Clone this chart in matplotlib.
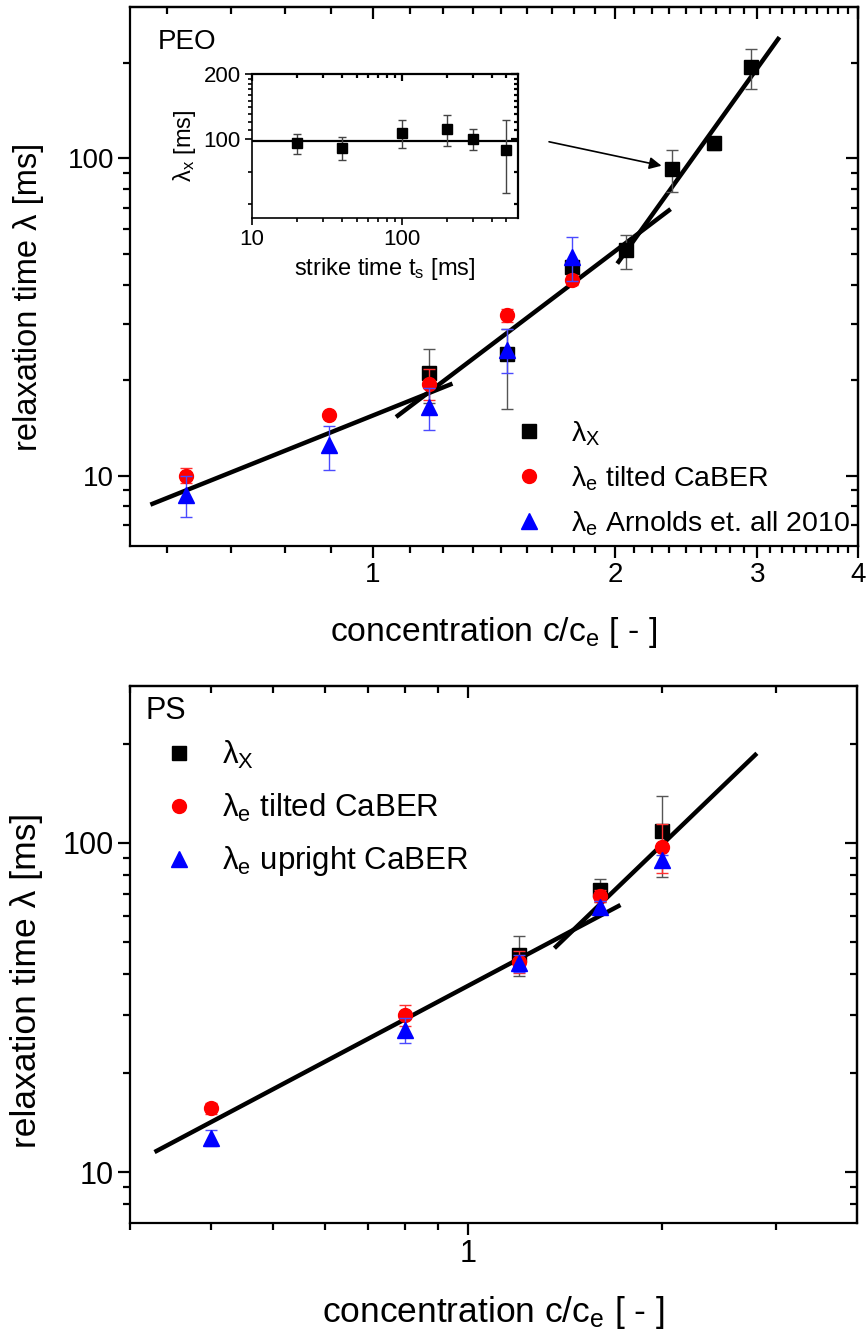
import matplotlib
matplotlib.use("Agg")
import matplotlib.pyplot as plt
from matplotlib.lines import Line2D
from matplotlib.ticker import FixedLocator, NullFormatter, FixedFormatter

plt.rcParams["font.family"] = ["Liberation Sans", "DejaVu Sans"]
plt.rcParams["mathtext.fontset"] = "custom"
plt.rcParams["mathtext.rm"] = "Liberation Sans"
plt.rcParams["mathtext.it"] = "Liberation Sans:italic"
plt.rcParams["mathtext.default"] = "regular"

# ---------------- PEO ----------------
peo_x_c = [1.175, 1.467, 1.765, 2.06, 2.35, 2.65, 2.945]
peo_x_lam = [21.0, 24.2, 45.5, 51.3, 92.5, 111.5, 194.0]
peo_x_lo = [4.0, 8.0, 2.0, 6.5, 14.0, 5.5, 28.5]
peo_x_hi = [4.0, 4.7, 2.0, 6.0, 13.7, 5.5, 27.0]

peo_e_c = [0.586, 0.883, 1.175, 1.467, 1.765]
peo_e_lam = [10.0, 15.5, 19.5, 32.0, 41.3]
peo_e_err = [0.55, 0.3, 2.2, 1.5, 1.5]

peo_a_c = [0.586, 0.883, 1.175, 1.467, 1.765]
peo_a_lam = [8.7, 12.5, 16.4, 24.8, 48.9]
peo_a_lo = [1.3, 2.1, 2.5, 3.7, 7.7]
peo_a_hi = [1.3, 1.8, 2.5, 4.1, 7.7]

# power-law fit segments: (c_start, c_end), (lam_start, lam_end)
peo_fit_c = [(0.530, 1.256), (1.069, 2.342), (2.011, 3.196)]
peo_fit_lam = [(8.10, 19.5), (15.3, 69.2), (46.6, 241.0)]

# strike-time series (inset)
strike_t = [20, 40, 100, 200, 300, 500]
strike_lam = [95.5, 91.1, 106.3, 110.9, 99.7, 88.9]
strike_err = [10.0, 11.0, 16.0, 18.0, 11.0, 33.0]
strike_mean = 98.0

# ---------------- PS ----------------
ps_x_c = [1.2, 1.6, 2.0]
ps_x_lam = [45.7, 72.0, 109.0]
ps_x_err = [6.3, 5.6, 30.0]

ps_e_c = [0.4, 0.8, 1.2, 1.6, 2.0]
ps_e_lam = [15.6, 30.0, 43.6, 69.0, 97.5]
ps_e_err = [0.6, 2.2, 3.4, 3.0, 16.6]

ps_u_c = [0.4, 0.8, 1.2, 1.6, 2.0]
ps_u_lam = [12.7, 27.0, 43.1, 64.1, 88.8]
ps_u_err = [0.7, 2.4, 2.5, 2.5, 3.4]

ps_fit_c = [(0.3274, 1.722), (1.361, 2.80)]
ps_fit_lam = [(11.5, 64.8), (47.9, 187.3)]

W, H = 866, 1337
fig = plt.figure(figsize=(W / 100, H / 100), dpi=100)


def frac(left, top, right, bottom):
    return [left / W, 1 - bottom / H, (right - left) / W, (bottom - top) / H]


SP_LW = 1.6


def origin_frame(ax, xmaj, xmin, ymaj, ymin, xlabels, ylabels, fs,
                 maj_len=8.5, min_len=5.0):
    """Log axes with outward ticks bottom/left and inward ticks top/right."""
    for s in ax.spines.values():
        s.set_linewidth(SP_LW)
    ax.xaxis.set_major_locator(FixedLocator(xmaj))
    ax.xaxis.set_major_formatter(FixedFormatter(xlabels))
    ax.xaxis.set_minor_locator(FixedLocator(xmin))
    ax.xaxis.set_minor_formatter(NullFormatter())
    ax.yaxis.set_major_locator(FixedLocator(ymaj))
    ax.yaxis.set_major_formatter(FixedFormatter(ylabels))
    ax.yaxis.set_minor_locator(FixedLocator(ymin))
    ax.yaxis.set_minor_formatter(NullFormatter())
    ax.tick_params(which="major", direction="out", length=maj_len, width=SP_LW,
                   labelsize=fs, pad=3)
    ax.tick_params(which="minor", direction="out", length=min_len, width=SP_LW)
    ident = (lambda v: v, lambda v: v)
    top = ax.secondary_xaxis("top", functions=ident)
    right = ax.secondary_yaxis("right", functions=ident)
    top.set_xticks(xmaj)
    top.xaxis.set_minor_locator(FixedLocator(xmin))
    right.set_yticks(ymaj)
    right.yaxis.set_minor_locator(FixedLocator(ymin))
    for sec, axis in ((top, top.xaxis), (right, right.yaxis)):
        axis.set_major_formatter(NullFormatter())
        axis.set_minor_formatter(NullFormatter())
        sec.tick_params(which="major", direction="in", length=maj_len, width=SP_LW)
        sec.tick_params(which="minor", direction="in", length=min_len, width=SP_LW)
        for s in sec.spines.values():
            s.set_linewidth(SP_LW)


def fit_lines(ax, cs, lams):
    for (c0, c1), (l0, l1) in zip(cs, lams):
        ax.plot([c0, c1], [l0, l1], color="black", lw=3.2,
                solid_capstyle="butt", zorder=4)


ebar_kw = dict(linestyle="none", capsize=4, elinewidth=1.0, capthick=1.0)

# ================= PEO panel =================
ax1 = fig.add_axes(frac(130, 7, 858, 546))
ax1.set_xscale("log")
ax1.set_yscale("log")
ax1.set_xlim(0.5, 4)
ax1.set_ylim(6, 300)

fit_lines(ax1, peo_fit_c, peo_fit_lam)
ax1.errorbar(peo_x_c, peo_x_lam, yerr=[peo_x_lo, peo_x_hi], marker="s", ms=9.5,
             color="black", ecolor="#555555", zorder=5, **ebar_kw)
ax1.errorbar(peo_e_c, peo_e_lam, yerr=peo_e_err, marker="o", ms=10,
             color="red", ecolor="#ff3030", zorder=6, **ebar_kw)
ax1.errorbar(peo_a_c, peo_a_lam, yerr=[peo_a_lo, peo_a_hi], marker="^", ms=11,
             color="blue", ecolor="#4a4aff", zorder=7, **ebar_kw)

top_minor = [m + k / 9 for m in range(0, 4) for k in range(1, 9)
             if 0.5 < m + k / 9 < 4]
origin_frame(ax1, [1, 2, 3, 4], top_minor, [10, 100],
             [7, 8, 9, 20, 30, 40, 50, 60, 70, 80, 90, 200],
             ["1", "2", "3", "4"], ["10", "100"], fs=20)

ax1.set_xlabel("concentration c/c$_e$ [ - ]", fontsize=24.3)
ax1.xaxis.set_label_coords(0.5, -0.128)
ax1.set_ylabel("relaxation time λ [ms]", fontsize=23.5)
ax1.yaxis.set_label_coords(-0.118, 0.462)
ax1.text(0.038, 0.935, "PEO", transform=ax1.transAxes, fontsize=20,
         ha="left", va="center")

h1 = [Line2D([], [], ls="none", marker="s", ms=9.5, color="black"),
      Line2D([], [], ls="none", marker="o", ms=10, color="red"),
      Line2D([], [], ls="none", marker="^", ms=11, color="blue")]
ax1.legend(h1, ["$\\lambda_X$", "$\\lambda_e$ tilted CaBER",
                "$\\lambda_e$ Arnolds et. all 2010"],
           loc="upper left", bbox_to_anchor=(515 / W, 1 - 419 / H),
           bbox_transform=fig.transFigure, frameon=False, fontsize=20.5,
           handlelength=1.0, handletextpad=0.95, labelspacing=0.58,
           borderpad=0, borderaxespad=0)

ax1.annotate("", xy=(2.282, 94.8), xytext=(1.655, 112.8),
             arrowprops=dict(arrowstyle="-|>", color="black", lw=1.2,
                             mutation_scale=18, shrinkA=0, shrinkB=0))

# ---------------- inset ----------------
axi = fig.add_axes(frac(252, 74, 518, 218))
axi.set_xscale("log")
axi.set_yscale("log")
axi.set_xlim(10, 600)
axi.set_ylim(43, 200)
axi.axhline(strike_mean, color="black", lw=1.6, zorder=3)
axi.errorbar(strike_t, strike_lam, yerr=strike_err, marker="s", ms=6.5,
             color="black", ecolor="#444444", linestyle="none", capsize=3,
             elinewidth=1.0, capthick=1.0, zorder=4)
in_xminor = [v * 10 ** d for d in (1, 2) for v in range(2, 10) if v * 10 ** d < 600]
origin_frame(axi, [10, 100], in_xminor, [100, 200],
             [50, 70, 110, 120, 130, 140, 150, 160, 170, 180, 190],
             ["10", "100"], ["100", "200"], fs=16, maj_len=5, min_len=3)
for sp in axi.spines.values():
    sp.set_linewidth(1.2)
axi.tick_params(which="both", width=1.2)
axi.set_xlabel("strike time t$_s$ [ms]", fontsize=17, labelpad=4)
axi.set_ylabel("$\\lambda_x$ [ms]", fontsize=17, labelpad=4)

# ================= PS panel =================
ax2 = fig.add_axes(frac(130, 686, 857, 1223))
ax2.set_xscale("log")
ax2.set_yscale("log")
ax2.set_xlim(0.3, 4)
ax2.set_ylim(7, 300)

fit_lines(ax2, ps_fit_c, ps_fit_lam)
ax2.errorbar(ps_x_c, ps_x_lam, yerr=ps_x_err, marker="s", ms=9.5,
             color="black", ecolor="#555555", zorder=5, **ebar_kw)
ax2.errorbar(ps_e_c, ps_e_lam, yerr=ps_e_err, marker="o", ms=10,
             color="red", ecolor="#ff3030", zorder=6, **ebar_kw)
ax2.errorbar(ps_u_c, ps_u_lam, yerr=ps_u_err, marker="^", ms=11,
             color="blue", ecolor="#4a4aff", zorder=7, **ebar_kw)

ps_xminor = [0.3, 0.4, 0.5, 0.6, 0.7, 0.8, 0.9, 2, 3]
origin_frame(ax2, [1], ps_xminor, [10, 100],
             [8, 9, 20, 30, 40, 50, 60, 70, 80, 90, 200],
             ["1"], ["10", "100"], fs=22)

ax2.set_xlabel("concentration c/c$_e$ [ - ]", fontsize=25.5)
ax2.xaxis.set_label_coords(0.5, -0.133)
ax2.set_ylabel("relaxation time λ [ms]", fontsize=25.5)
ax2.yaxis.set_label_coords(-0.12, 0.452)
ax2.text(0.021, 0.953, "PS", transform=ax2.transAxes, fontsize=22,
         ha="left", va="center")

ax2.legend(h1, ["$\\lambda_X$", "$\\lambda_e$ tilted CaBER",
                "$\\lambda_e$ upright CaBER"],
           loc="upper left", bbox_to_anchor=(163 / W, 1 - 739 / H),
           bbox_transform=fig.transFigure, frameon=False, fontsize=22.5,
           handlelength=1.0, handletextpad=0.9, labelspacing=0.66,
           borderpad=0, borderaxespad=0)

fig.savefig("out.png", dpi=100)
